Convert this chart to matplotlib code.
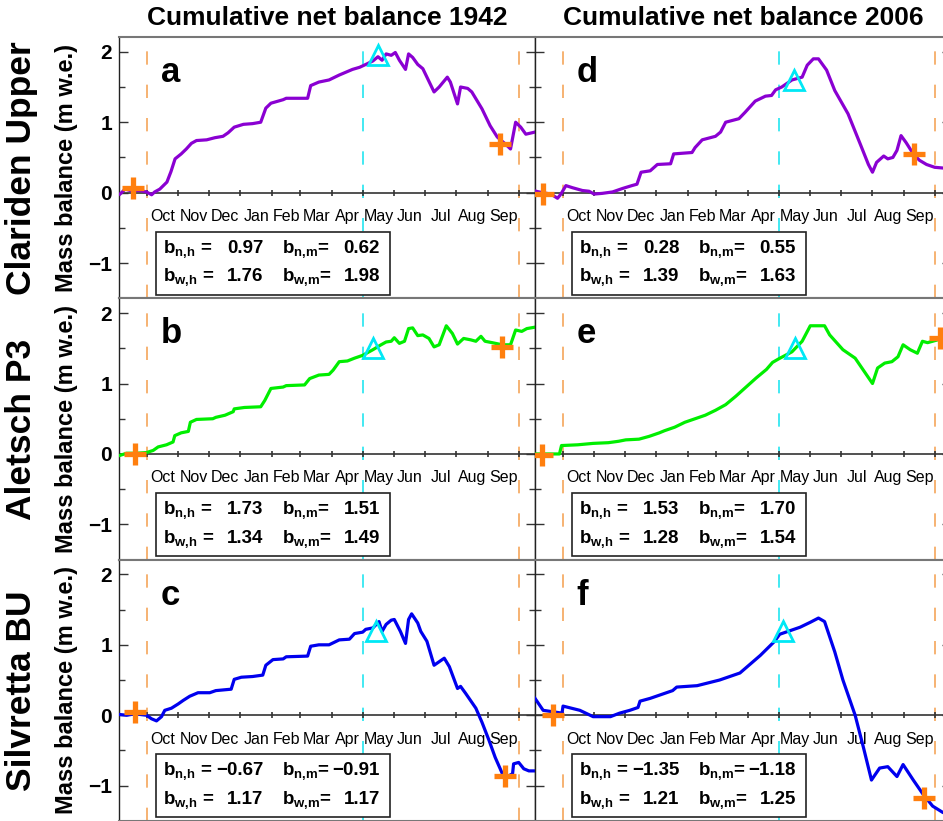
import numpy as np
import matplotlib.pyplot as plt
from matplotlib.patches import Rectangle

plt.rcParams['font.family'] = ['Liberation Sans', 'DejaVu Sans']
plt.rcParams['mathtext.fontset'] = 'custom'
plt.rcParams['mathtext.bf'] = 'Liberation Sans:bold'
plt.rcParams['mathtext.rm'] = 'Liberation Sans:bold'
plt.rcParams['mathtext.default'] = 'bf'

# days counted from 1 October of the hydrological year
months = ['Oct', 'Nov', 'Dec', 'Jan', 'Feb', 'Mar', 'Apr', 'May', 'Jun', 'Jul', 'Aug', 'Sep']
month_len = [31, 30, 31, 31, 28, 31, 30, 31, 30, 31, 31, 30]

glaciers = ['Clariden Upper', 'Aletsch P3', 'Silvretta BU']
years = ['1942', '2006']
letters = ['a', 'b', 'c', 'd', 'e', 'f']

a_days = [-26, -21, -16, -6.5, 0, 5, 8, 13, 20, 24, 28, 34, 39, 44, 49, 59, 67, 75, 80, 86,
          95, 104, 112, 117, 122, 134, 137, 158, 161, 169, 179, 189, 202, 209, 215, 222, 227, 231, 235, 240,
          244, 248, 254, 257, 261, 266, 271, 282, 287, 295, 298, 305, 308, 315, 319, 329, 337, 344, 352, 357,
          362, 367, 372, 381]
a_vals = [-0.02, 0.05, 0.03, 0.03, 0.01, -0.03, 0.01, 0.05, 0.15, 0.3, 0.48, 0.55, 0.62, 0.7, 0.74, 0.75, 0.78, 0.8, 0.85, 0.93,
          0.97, 0.98, 1.0, 1.2, 1.27, 1.32, 1.34, 1.34, 1.52, 1.57, 1.6, 1.67, 1.75, 1.78, 1.82, 1.87, 1.93, 1.88, 1.97, 1.95,
          1.99, 1.88, 1.75, 1.97, 1.92, 1.82, 1.76, 1.43, 1.5, 1.64, 1.57, 1.26, 1.5, 1.48, 1.43, 1.19, 0.95, 0.79, 0.69, 0.62,
          1.0, 0.93, 0.83, 0.86]

b_days = [-26, -19.6, -9.8, 0, 6.5, 11.4, 19.6, 26, 27.7, 34, 41, 43, 49, 65, 68, 77, 85, 86, 96, 112,
          116, 122, 134, 137, 155, 160, 169, 179, 183, 189, 197, 204, 212, 222, 230, 235, 240, 243, 248, 253,
          257, 261, 266, 271, 277, 282, 287, 294, 300, 305, 311, 318, 323, 328, 332, 339, 349, 357, 362, 368,
          373, 381]
b_vals = [-0.02, 0.01, 0.01, 0.02, 0.05, 0.1, 0.13, 0.17, 0.26, 0.3, 0.32, 0.45, 0.49, 0.5, 0.52, 0.55, 0.6, 0.64, 0.66, 0.67,
          0.76, 0.93, 0.95, 0.97, 0.98, 1.07, 1.12, 1.13, 1.19, 1.31, 1.32, 1.36, 1.4, 1.48, 1.55, 1.59, 1.6, 1.65, 1.57, 1.6,
          1.78, 1.79, 1.68, 1.69, 1.64, 1.52, 1.55, 1.82, 1.71, 1.56, 1.64, 1.62, 1.6, 1.67, 1.6, 1.58, 1.55, 1.55, 1.76, 1.74,
          1.78, 1.8]

c_days = [-26, -19.6, -11.4, 0, 4.9, 9.8, 14.7, 17.9, 24.4, 31, 35.9, 42.4, 50.5, 62, 68, 83, 86, 93, 104, 114,
          117, 124, 134, 137, 158, 161, 169, 179, 189, 199, 204, 212, 215, 222, 228, 231, 235, 240, 243, 249,
          254, 257, 260, 266, 269, 275, 282, 287, 292, 297, 305, 308, 313, 323, 329, 336, 342, 349, 354, 359,
          360, 365, 370, 375, 381]
c_vals = [0.01, 0, 0.02, 0, -0.05, -0.08, -0.02, 0.07, 0.1, 0.16, 0.21, 0.27, 0.32, 0.32, 0.35, 0.37, 0.51, 0.54, 0.55, 0.57,
          0.71, 0.79, 0.8, 0.83, 0.84, 0.98, 1.0, 1.0, 1.07, 1.08, 1.16, 1.18, 1.22, 1.24, 1.33, 1.19, 1.29, 1.35, 1.36, 1.19,
          1.02, 1.36, 1.44, 1.31, 1.19, 1.05, 0.71, 0.76, 0.81, 0.69, 0.38, 0.41, 0.31, 0.1, -0.1, -0.36, -0.6, -0.83, -0.87, -0.83,
          -0.69, -0.67, -0.76, -0.79, -0.79]

d_days = [-26, -19.6, -11.4, -4.9, -1.6, 3.3, 9.8, 19.6, 26, 31, 39, 49, 59, 68, 73, 77, 86, 93, 106, 109,
          127, 130, 137, 150, 155, 160, 173, 179, 189, 199, 205, 209, 215, 225, 235, 240, 246, 251, 259, 267,
          280, 292, 300, 304, 308, 315, 319, 324, 328, 332, 337, 344, 350, 357, 365, 373, 381]
d_vals = [0.02, 0, -0.02, -0.08, -0.02, 0.1, 0.07, 0.03, 0.02, -0.02, -0.01, 0.01, 0.06, 0.1, 0.12, 0.29, 0.31, 0.4, 0.41, 0.55,
          0.57, 0.64, 0.75, 0.8, 0.86, 1.0, 1.05, 1.14, 1.3, 1.37, 1.38, 1.46, 1.5, 1.6, 1.64, 1.81, 1.9, 1.9, 1.74, 1.45,
          1.12, 0.69, 0.4, 0.29, 0.43, 0.52, 0.48, 0.5, 0.6, 0.81, 0.71, 0.55, 0.46, 0.4, 0.36, 0.35, 0.34]

e_days = [-27, -3, -1, 0, 15, 30, 45, 55, 62, 75, 85, 95, 100, 110, 120, 130, 140, 150, 160, 170,
          180, 190, 200, 206, 212, 225, 235, 243, 257, 262, 275, 287, 304, 309, 316, 323, 329, 334, 341, 348,
          353, 358, 368, 373, 381]
e_vals = [0.0, 0.0, 0.12, 0.12, 0.13, 0.15, 0.16, 0.18, 0.2, 0.21, 0.25, 0.3, 0.33, 0.38, 0.45, 0.5, 0.55, 0.62, 0.7, 0.82,
          0.95, 1.08, 1.2, 1.3, 1.35, 1.45, 1.6, 1.82, 1.82, 1.69, 1.48, 1.36, 1.0, 1.22, 1.29, 1.31, 1.38, 1.55, 1.48, 1.43,
          1.6, 1.58, 1.62, 1.63, 1.65]

f_days = [-27, -19, -0.5, 0.5, 17, 30, 47, 56, 66, 74, 76, 86, 98, 108, 112, 132, 154, 174, 194, 208,
          213, 233, 243, 251, 257, 267, 275, 287, 295, 303, 311, 319, 328, 334, 344, 354, 363, 373, 381]
f_vals = [0.24, 0.07, 0.03, 0.13, 0.07, -0.02, -0.02, 0.03, 0.07, 0.11, 0.2, 0.24, 0.3, 0.35, 0.4, 0.42, 0.5, 0.6, 0.85, 1.05,
          1.15, 1.25, 1.32, 1.38, 1.33, 0.9, 0.5, 0.0, -0.45, -0.92, -0.75, -0.73, -0.87, -0.7, -0.92, -1.13, -1.29, -1.38, -1.42]

series_days = [a_days, b_days, c_days, d_days, e_days, f_days]
series_vals = [a_vals, b_vals, c_vals, d_vals, e_vals, f_vals]
colors = ['#8a00d2', '#00ee00', '#0000ee', '#8a00d2', '#00ee00', '#0000ee']

# orange crosses (start / end of measured period) and cyan triangle (winter balance)
plus_x = [[-13, 347], [-11, 349], [-11, 352], [-19, 345], [-20, 370], [-9, 355]]
plus_y = [[0.07, 0.69], [0.0, 1.52], [0.05, -0.86], [-0.02, 0.55], [-0.02, 1.65], [0.0, -1.17]]
tri_x = [227, 222, 225, 227, 228, 216]
tri_y = [1.95, 1.5, 1.2, 1.6, 1.5, 1.2]

b_nh = [0.97, 1.73, -0.67, 0.28, 1.53, -1.35]
b_nm = [0.62, 1.51, -0.91, 0.55, 1.70, -1.18]
b_wh = [1.76, 1.34, 1.17, 1.39, 1.28, 1.21]
b_wm = [1.98, 1.49, 1.17, 1.63, 1.54, 1.25]


def fmt(v):
    return f"{v:.2f}".replace('-', '\u2212')


W, H = 943, 821
fig = plt.figure(figsize=(W / 100, H / 100), dpi=100)

edges = np.concatenate([[0], np.cumsum(month_len)])
mids = edges[:-1] + np.array(month_len) / 2
row_h = 261.3
col_x = [119, 535]

for k in range(6):
    col, row = k // 3, k % 3
    top = 37 + row * row_h
    ax = fig.add_axes([col_x[col] / W, 1 - (top + row_h) / H, 416 / W, row_h / H])
    ax.set_xlim(-27, 381)
    ax.set_ylim(-1.49, 2.21)
    for s in ['top', 'bottom']:
        ax.spines[s].set_color('#777777')
        ax.spines[s].set_linewidth(1.5)
    for s in ['left', 'right']:
        ax.spines[s].set_color('#222222')
        ax.spines[s].set_linewidth(1.0)
    ax.set_xticks([])
    ax.set_yticks([-1, 0, 1, 2])
    ax.set_yticks([-1.5, -0.5, 0.5, 1.5], minor=True)
    ax.tick_params(axis='y', which='both', direction='in', left=True, right=True,
                   color='#333333', width=1.0, pad=5, labelsize=15)
    ax.tick_params(axis='y', which='major', length=6.5)
    ax.tick_params(axis='y', which='minor', length=4.3)
    for lab in ax.get_yticklabels():
        lab.set_fontweight('bold')
    if col == 1:
        ax.tick_params(axis='y', labelleft=False)

    # season limits
    for xv in [0, 365]:
        ax.axvline(xv, color='#f5a55a', lw=1.2, dashes=(8, 12), zorder=1)
    ax.axvline(212, color='#22e5f0', lw=1.2, dashes=(8, 12), zorder=1)

    # zero line with month ticks
    ax.axhline(0, color='#333333', lw=1.2, zorder=2)
    ax.plot(edges, np.zeros(len(edges)), ls='none', marker='|', ms=5, mew=1.2,
            color='#333333', zorder=2)
    for m, name in zip(mids, months):
        ax.text(m, -0.34, name, ha='center', va='center', fontsize=11.5, zorder=3)

    ax.plot(series_days[k], series_vals[k], color=colors[k], lw=2.3, zorder=4,
            solid_joinstyle='round')
    ax.plot(plus_x[k], plus_y[k], ls='none', marker='+', ms=16, mew=3.8,
            color='#ff7f0e', zorder=6)
    ax.plot(tri_x[k], tri_y[k], ls='none', marker='^', ms=15, mew=2,
            mfc='none', mec='#00e8f5', zorder=6)

    ax.text(14, 1.57, letters[k], fontsize=25, fontweight='bold', ha='left', va='baseline', zorder=7)

    # statistics box
    ax.add_patch(Rectangle((8.8, -1.447), 229.9, 0.894, facecolor='white',
                           edgecolor='#222222', lw=1.2, zorder=8))
    rows = [(-0.85, 'n', b_nh[k], b_nm[k]), (-1.26, 'w', b_wh[k], b_wm[k])]
    for yb, t, vh, vm in rows:
        ax.text(16.5, yb, f"b$_{{{t}{{,}}h}}$ =", fontsize=13.5, fontweight='bold',
                ha='left', va='baseline', zorder=9)
        ax.text(114.5, yb, fmt(vh), fontsize=13.5, fontweight='bold',
                ha='right', va='baseline', zorder=9)
        ax.text(133, yb, f"b$_{{{t}{{,}}m}}$=", fontsize=13.5, fontweight='bold',
                ha='left', va='baseline', zorder=9)
        ax.text(229, yb, fmt(vm), fontsize=13.5, fontweight='bold',
                ha='right', va='baseline', zorder=9)

for col, yr in enumerate(years):
    fig.text((col_x[col] + 208) / W, 1 - 18 / H, 'Cumulative net balance ' + yr,
             fontsize=19, fontweight='bold', ha='center', va='center')

for row, name in enumerate(glaciers):
    cy = 1 - (37 + row * row_h + row_h / 2) / H
    fig.text(22 / W, cy, name, rotation=90, fontsize=25.5, fontweight='bold',
             ha='center', va='center')
    fig.text(66 / W, cy, 'Mass balance (m w.e.)', rotation=90, fontsize=17,
             fontweight='bold', ha='center', va='center')

fig.savefig('out.png', dpi=100)
